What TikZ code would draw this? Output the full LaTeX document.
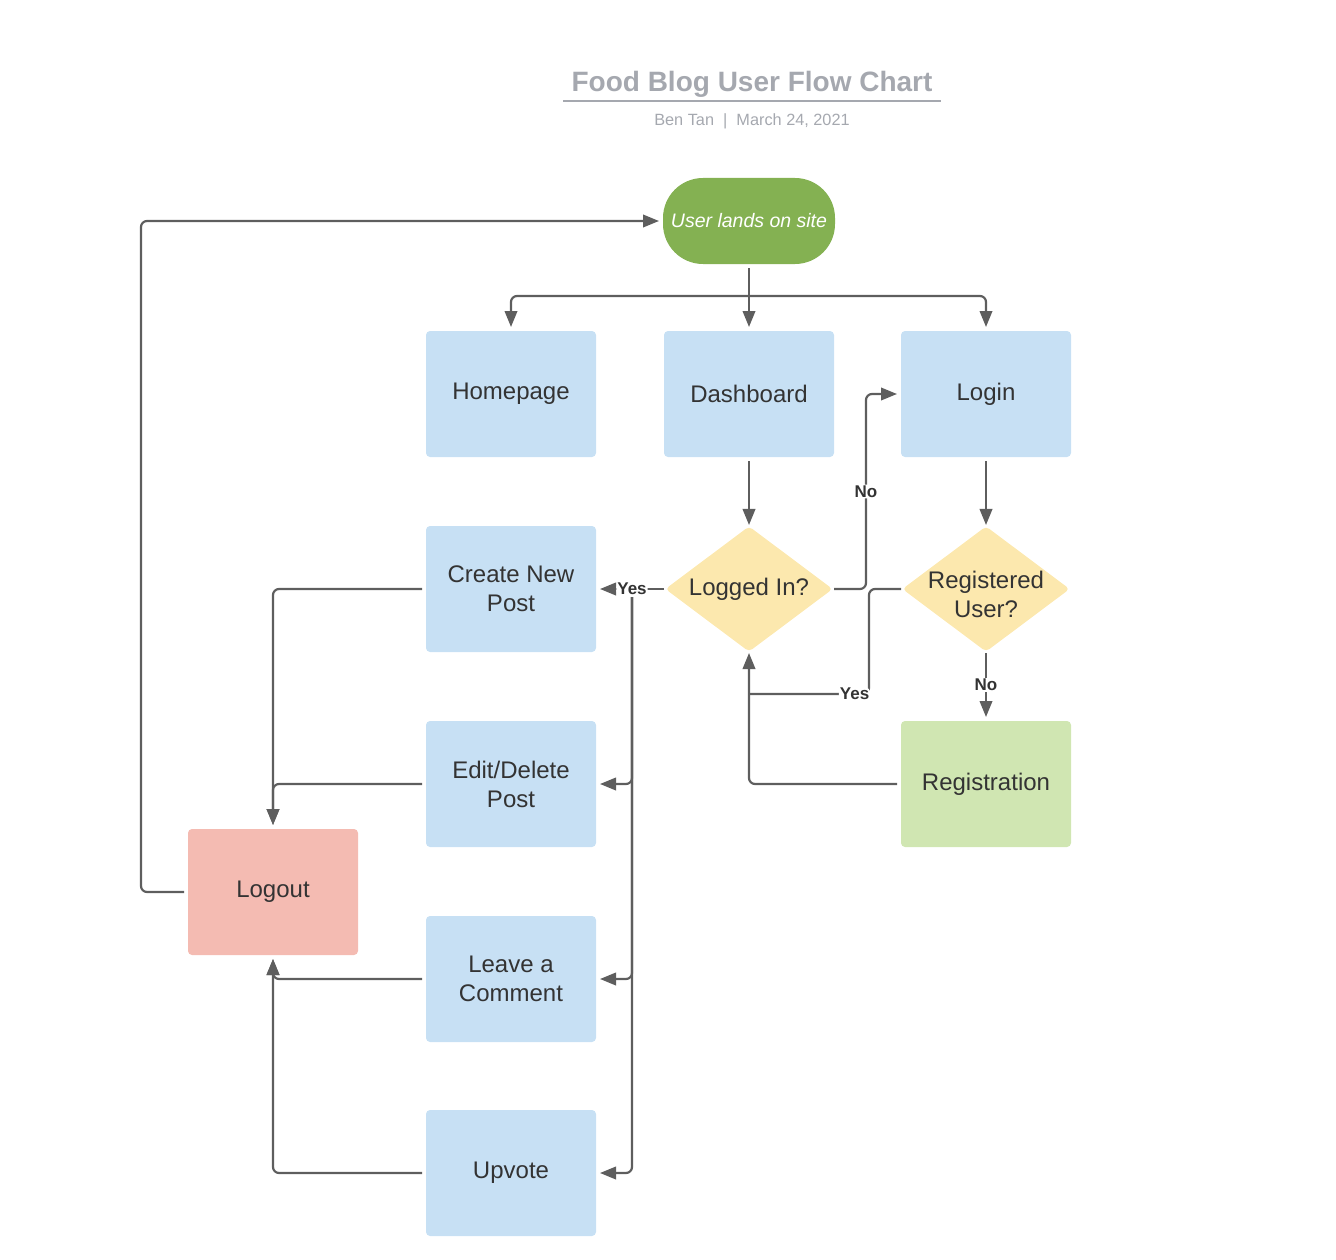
\documentclass[tikz,border=0pt]{standalone}
\usepackage{fontspec}
\setmainfont{Liberation Sans}
\usetikzlibrary{shapes.geometric,arrows.meta}

\definecolor{boxblue}{HTML}{C7E0F4}
\definecolor{qyellow}{HTML}{FCE8AE}
\definecolor{startgreen}{HTML}{84B152}
\definecolor{reggreen}{HTML}{D0E6B2}
\definecolor{outred}{HTML}{F4BBB2}
\definecolor{linegray}{HTML}{5E5E5E}
\definecolor{titlegray}{HTML}{A5A8AF}
\definecolor{textdark}{HTML}{333333}

\begin{document}
\begin{tikzpicture}[x=1pt, y=-1pt,
flowbox/.style={rectangle, rounded corners=4pt, minimum width=170pt, minimum height=126pt, outer sep=4pt, align=center, font=\fontsize{24}{29}\selectfont, text=textdark},
bluebox/.style={flowbox, fill=boxblue},
decision/.style={diamond, fill=qyellow, rounded corners=4pt, minimum width=168pt, minimum height=126pt, inner sep=0pt, outer sep=1pt},
qtext/.style={align=center, font=\fontsize{24}{29}\selectfont, text=textdark},
startbox/.style={rectangle, rounded corners=40pt, fill=startgreen, minimum width=172pt, minimum height=86pt, outer sep=4pt, text=white, font=\itshape\fontsize{19.5}{23}\selectfont},
conn/.style={draw=linegray, line width=2.2pt, rounded corners=6pt},
arrow/.style={conn, -{Triangle[length=16pt,width=12.5pt]}},
lbl/.style={fill=white, inner sep=1pt, font=\bfseries\fontsize{17}{20}\selectfont, text=textdark}
]
\useasboundingbox (0,0) rectangle (1336,1260);

% title
\node (title) at (752, 84) [font=\bfseries\fontsize{28}{32}\selectfont, text=titlegray] {Food Blog User Flow Chart};
\draw[titlegray, line width=2pt] (563, 101) -- (941, 101);
\node (byline) at (752, 121) [font=\fontsize{16.3}{19}\selectfont, text=titlegray] {Ben Tan \ | \ March 24, 2021};

\node (start) at (749, 221) [startbox] {User lands on site};

\node (home) at (511, 394) [bluebox] {Homepage};
\node (dash) at (749, 394) [bluebox] {Dashboard};
\node (login) at (986, 394) [bluebox] {Login};

\node (create) at (511, 589) [bluebox] {Create New\\Post};
\node (logged) at (749, 589) [decision, label={[qtext]center:Logged In?}] {};
\node (reg) at (986, 589) [decision, label={[qtext, yshift=-5pt]center:{Registered\\User?}}] {};

\node (edit) at (511, 784) [bluebox] {Edit/Delete\\Post};
\node (regist) at (986, 784) [flowbox, fill=reggreen] {Registration};
\node (logout) at (273, 892) [flowbox, fill=outred] {Logout};
\node (comment) at (511, 979) [bluebox] {Leave a\\Comment};
\node (upvote) at (511, 1173) [bluebox] {Upvote};

\coordinate (split) at (749, 296);
\coordinate (join) at (749, 694);

\draw[conn] (start.south) -- (split);
\draw[arrow] (split) -| (home.north);
\draw[arrow] (split) -- (dash.north);
\draw[arrow] (split) -| (login.north);

\draw[arrow] (dash) -- (logged);
\draw[arrow] (login) -- (reg);
\draw[arrow] (logged.east) -- ++(32, 0) |- node[lbl, pos=0.25] {No} (login.west);
\draw[arrow] (logged.west) -- node[lbl] (yes) {Yes} (create.east);
\draw[arrow] (yes.south) |- (edit.east);
\draw[arrow] (yes.south) |- (comment.east);
\draw[arrow] (yes.south) |- (upvote.east);

\draw[conn] (reg.west) -- ++(-32, 0) |- node[lbl, pos=0.56] {Yes} (join);
\draw[arrow] (regist.west) -| (logged.south);
\draw[arrow] (reg) -- node[lbl] {No} (regist);

\draw[arrow] (create.west) -| (logout.north);
\draw[arrow] (edit.west) -| (logout.north);
\draw[arrow] (comment.west) -| (logout.south);
\draw[arrow] (upvote.west) -| (logout.south);
\draw[arrow] (logout.west) -- ++(-43, 0) |- (start.west);

\end{tikzpicture}
\end{document}
